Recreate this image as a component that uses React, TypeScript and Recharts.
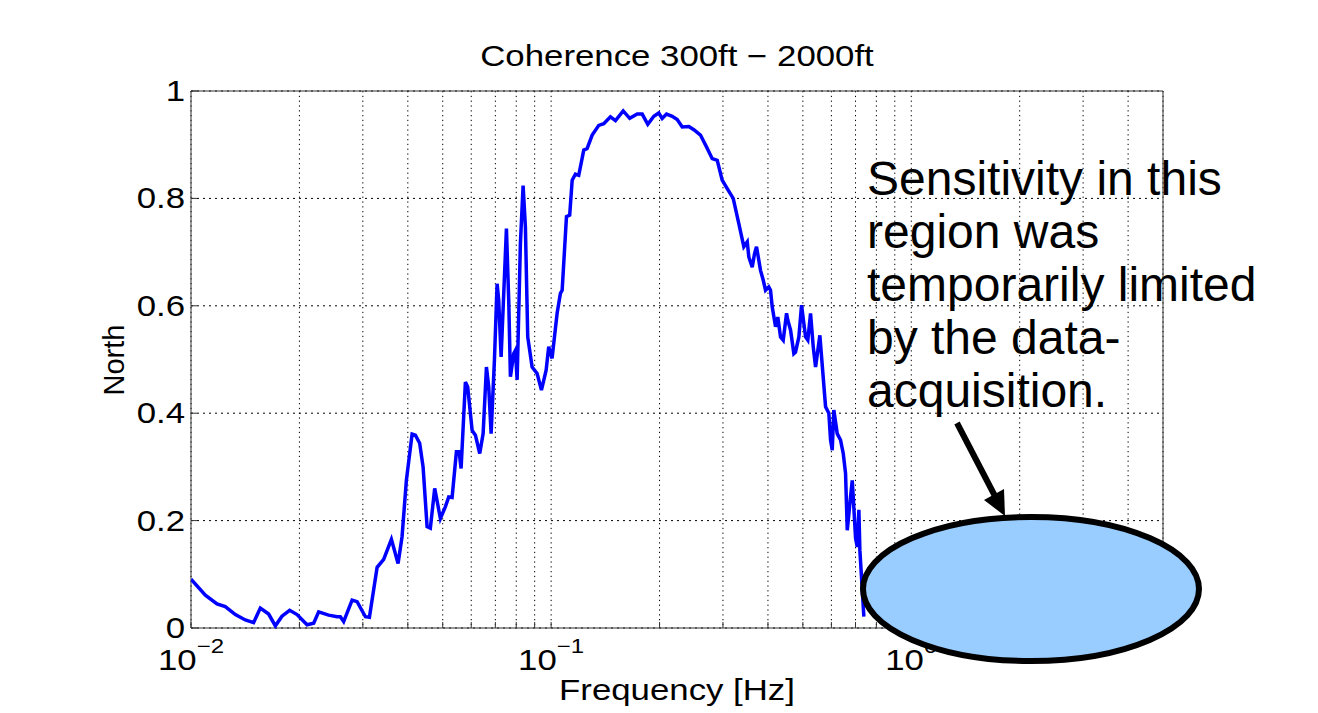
import { LineChart, Line, XAxis, YAxis, CartesianGrid, ReferenceArea } from 'recharts'

// frequency (Hz) and coherence
const freqHz = [
  0.01, 0.01096, 0.01181, 0.01245, 0.01328, 0.01415, 0.01492, 0.01558, 0.01643, 0.01715,
  0.01789, 0.01879, 0.0197, 0.021, 0.02191, 0.02262, 0.02411, 0.02545, 0.02598, 0.02654,
  0.02801, 0.02892, 0.0305, 0.03129, 0.03287, 0.03428, 0.03601, 0.03758, 0.03855, 0.03963,
  0.04111, 0.04199, 0.04315, 0.0441, 0.04524, 0.0462, 0.0475, 0.04926, 0.05087, 0.05196,
  0.05309, 0.05457, 0.05553, 0.05623, 0.0578, 0.05866, 0.06034, 0.06162, 0.06335, 0.06474,
  0.06612, 0.0671, 0.06813, 0.06959, 0.07079, 0.07152, 0.07263, 0.07514, 0.07625, 0.07708,
  0.07873, 0.07959, 0.08046, 0.08216, 0.08359, 0.08483, 0.0861, 0.08855, 0.09143, 0.09399,
  0.09685, 0.09847, 0.1006, 0.1039, 0.1061, 0.1073, 0.1103, 0.1126, 0.1144, 0.1168,
  0.1193, 0.1232, 0.1259, 0.13, 0.1356, 0.14, 0.1461, 0.1509, 0.1585, 0.1653,
  0.1734, 0.179, 0.1855, 0.1928, 0.199, 0.2034, 0.2091, 0.2169, 0.2239, 0.2312,
  0.2412, 0.249, 0.2598, 0.27, 0.2801, 0.2892, 0.2985, 0.3083, 0.3203, 0.332,
  0.3428, 0.3504, 0.3539, 0.3617, 0.3671, 0.3718, 0.3814, 0.388, 0.3938, 0.4021,
  0.4066, 0.411, 0.4199, 0.426, 0.4335, 0.441, 0.4505, 0.4542, 0.4621, 0.472,
  0.4771, 0.4874, 0.4958, 0.5087, 0.5161, 0.5252, 0.5342, 0.5423, 0.5574, 0.5781,
  0.5903, 0.5969, 0.6033, 0.6095, 0.6228, 0.6362, 0.6473, 0.6569, 0.6641, 0.6781,
  0.6857, 0.7004, 0.7079, 0.7153, 0.7199, 0.7385,
]

const coherenceNorth = [
  0.091, 0.061, 0.045, 0.04, 0.025, 0.015, 0.01, 0.037, 0.026, 0.004,
  0.022, 0.033, 0.025, 0.006, 0.009, 0.03, 0.024, 0.021, 0.021, 0.012,
  0.052, 0.049, 0.021, 0.02, 0.113, 0.128, 0.165, 0.12, 0.17, 0.275,
  0.361, 0.359, 0.344, 0.3, 0.189, 0.186, 0.26, 0.204, 0.226, 0.244,
  0.243, 0.328, 0.328, 0.297, 0.458, 0.449, 0.368, 0.359, 0.325, 0.362,
  0.486, 0.449, 0.362, 0.499, 0.641, 0.61, 0.505, 0.744, 0.61, 0.468,
  0.511, 0.517, 0.462, 0.716, 0.824, 0.747, 0.542, 0.486, 0.474, 0.443,
  0.48, 0.524, 0.502, 0.586, 0.623, 0.629, 0.766, 0.769, 0.834, 0.845,
  0.843, 0.89, 0.893, 0.918, 0.936, 0.939, 0.952, 0.945, 0.963, 0.949,
  0.957, 0.957, 0.938, 0.953, 0.959, 0.949, 0.957, 0.953, 0.947, 0.933,
  0.934, 0.928, 0.918, 0.896, 0.874, 0.871, 0.834, 0.818, 0.8, 0.753,
  0.71, 0.719, 0.691, 0.672, 0.697, 0.71, 0.666, 0.648, 0.629, 0.635,
  0.629, 0.598, 0.561, 0.579, 0.542, 0.536, 0.586, 0.573, 0.555, 0.511,
  0.514, 0.542, 0.601, 0.542, 0.536, 0.586, 0.524, 0.486, 0.545, 0.412,
  0.4, 0.35, 0.331, 0.406, 0.362, 0.35, 0.325, 0.288, 0.182, 0.244,
  0.275, 0.167, 0.151, 0.22, 0.145, 0.021,
]

const xTicks = [
  0.01, 0.02, 0.03, 0.04, 0.05, 0.06, 0.07, 0.08, 0.09,
  0.1, 0.2, 0.3, 0.4, 0.5, 0.6, 0.7, 0.8, 0.9,
  1, 2, 3, 4, 5,
]
const decadeTicks = [0.01, 0.1, 1]
const decadeExponents = ['\u22122', '\u22121', '0']
const yTicks = [0, 0.2, 0.4, 0.6, 0.8, 1]
const yTickLabels = ['0', '0.2', '0.4', '0.6', '0.8', '1']

const data = freqHz.map((f, i) => ({ f, c: coherenceNorth[i] }))

const FONT = '"Liberation Sans", Arial, Helvetica, sans-serif'
const STRETCH = 1.2
const AXIS = '#333'
const TICK = 6

function BottomTick(props: any) {
  const { x, y, payload } = props
  const idx = decadeTicks.findIndex((d) => Math.abs(d - payload.value) < 1e-9)
  return (
    <g>
      <line x1={x} x2={x} y1={y} y2={y - TICK} stroke={AXIS} />
      {idx >= 0 && (
        <text
          transform={`translate(${x},${y + 42}) scale(${STRETCH},1)`}
          textAnchor="middle"
          fontSize={29}
          fontFamily={FONT}
          fill="#000"
        >
          10
          <tspan dy={-17} fontSize={20}>
            {decadeExponents[idx]}
          </tspan>
        </text>
      )}
    </g>
  )
}

function TopTick(props: any) {
  const { x, y } = props
  return <line x1={x} x2={x} y1={y} y2={y + TICK} stroke={AXIS} />
}

function LeftTick(props: any) {
  const { x, y, payload } = props
  const idx = yTicks.findIndex((t) => Math.abs(t - payload.value) < 1e-9)
  return (
    <g>
      <line x1={x} x2={x + TICK} y1={y} y2={y} stroke={AXIS} />
      <text
        transform={`translate(${x - 6},${y + 10}) scale(${STRETCH},1)`}
        textAnchor="end"
        fontSize={29}
        fontFamily={FONT}
        fill="#000"
      >
        {yTickLabels[idx]}
      </text>
    </g>
  )
}

function RightTick(props: any) {
  const { x, y } = props
  return <line x1={x} x2={x - TICK} y1={y} y2={y} stroke={AXIS} />
}

export default function App() {
  return (
    <div style={{ position: 'absolute', left: 0, top: 0, width: 1318, height: 713, background: '#fff' }}>
      <LineChart
        width={1318}
        height={713}
        data={data}
        margin={{ top: 91, right: 155, bottom: 35, left: 111 }}
      >
        <CartesianGrid stroke="#000" strokeDasharray="2 4" vertical={false} />
        <CartesianGrid stroke="#000" strokeDasharray="1.3 3.5" horizontal={false} />
        <XAxis
          dataKey="f"
          type="number"
          scale="log"
          domain={[0.01, 5]}
          allowDataOverflow
          ticks={xTicks}
          interval={0}
          height={50}
          tickSize={0}
          tickMargin={0}
          axisLine={false}
          tickLine={false}
          tick={<BottomTick />}
        />
        <XAxis
          xAxisId="top"
          orientation="top"
          dataKey="f"
          type="number"
          scale="log"
          domain={[0.01, 5]}
          allowDataOverflow
          ticks={xTicks}
          interval={0}
          height={0}
          tickSize={0}
          tickMargin={0}
          axisLine={false}
          tickLine={false}
          tick={<TopTick />}
        />
        <YAxis
          type="number"
          domain={[0, 1]}
          ticks={yTicks}
          interval={0}
          width={80}
          tickSize={0}
          tickMargin={0}
          axisLine={false}
          tickLine={false}
          tick={<LeftTick />}
        />
        <YAxis
          yAxisId="right"
          orientation="right"
          type="number"
          domain={[0, 1]}
          ticks={yTicks}
          interval={0}
          width={0}
          tickSize={0}
          tickMargin={0}
          axisLine={false}
          tickLine={false}
          tick={<RightTick />}
        />
        <ReferenceArea x1={0.01} x2={5} y1={0} y2={1} fill="none" stroke={AXIS} strokeWidth={1} />
        <Line
          type="linear"
          dataKey="c"
          stroke="#0000ff"
          strokeWidth={3.5}
          dot={false}
          isAnimationActive={false}
        />
      </LineChart>

      <svg
        width={1318}
        height={713}
        style={{ position: 'absolute', left: 0, top: 0, pointerEvents: 'none' }}
      >
        <text
          transform={`translate(677,66) scale(${STRETCH},1)`}
          textAnchor="middle"
          fontSize={29}
          fontFamily={FONT}
          fill="#000"
        >
          Coherence 300ft − 2000ft
        </text>
        <text
          transform={`translate(677,700) scale(${STRETCH},1)`}
          textAnchor="middle"
          fontSize={29}
          fontFamily={FONT}
          fill="#000"
        >
          Frequency [Hz]
        </text>
        <text
          transform="translate(124,360) rotate(-90)"
          textAnchor="middle"
          fontSize={29}
          fontFamily={FONT}
          fill="#000"
        >
          North
        </text>

        <g fontSize={48} fontFamily={FONT} fill="#000">
          <text x={867} y={195}>Sensitivity in this</text>
          <text x={867} y={248}>region was</text>
          <text x={867} y={301}>temporarily limited</text>
          <text x={867} y={354}>by the data-</text>
          <text x={867} y={407}>acquisition.</text>
        </g>

        <line x1={957} y1={423} x2={997} y2={500} stroke="#000" strokeWidth={6} />
        <polygon points="1005,516 984,500 1004,489" fill="#000" />

        <ellipse cx={1031} cy={589} rx={168} ry={72} fill="#99ccff" stroke="#000" strokeWidth={6} />
      </svg>
    </div>
  )
}
